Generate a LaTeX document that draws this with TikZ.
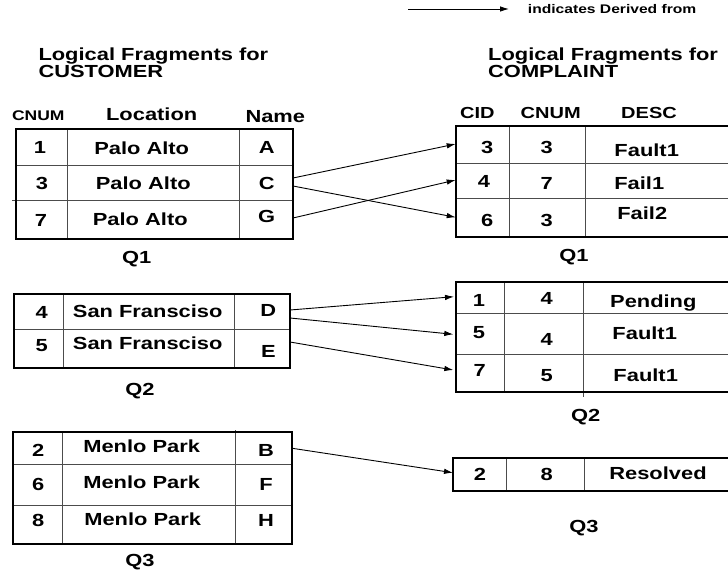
\documentclass[tikz,border=0pt]{standalone}
\usepackage{fontspec}
\usetikzlibrary{arrows.meta}
\newfontfamily\hv{Liberation Sans}[FakeStretch=1.25]
\tikzset{
  txt/.style={font=\hv\bfseries\fontsize{17.5}{18}\selectfont, inner sep=0pt, text height=12.5pt, text depth=0pt},
  hdl/.style={font=\hv\bfseries\fontsize{14}{15}\selectfont, inner sep=0pt, text height=10pt, text depth=0pt},
  hdr/.style={font=\hv\bfseries\fontsize{16}{17}\selectfont, inner sep=0pt, text height=11.5pt, text depth=0pt},
  leg/.style={font=\hv\bfseries\fontsize{12.5}{13}\selectfont, inner sep=0pt, text height=9pt, text depth=0pt},
  border/.style={draw=black, line width=2pt},
  grid/.style={draw=black!70, line width=1pt},
  arr/.style={draw=black, line width=0.9pt, -{Latex[length=9pt,width=5.5pt]}}
}
\begin{document}
\begin{tikzpicture}[x=1pt,y=-1pt]
\useasboundingbox (0,0) rectangle (728,575);
\clip (0,0) rectangle (728,575);
\fill[white] (0,0) rectangle (728,575);

% legend
\coordinate (legA) at (408,9);
\coordinate (legB) at (509,9);
\draw[arr] (legA) -- (legB);
\node[leg, anchor=west] (legT) at (527.7,9.5) {indicates Derived from};

% titles
\node[txt, anchor=west] (tl1) at (38.3,54) {Logical Fragments for};
\node[txt, anchor=west] (tl2) at (38.3,71.7) {CUSTOMER};
\node[txt, anchor=west] (tr1) at (488,54) {Logical Fragments for};
\node[txt, anchor=west] (tr2) at (488,71.7) {COMPLAINT};

% headers
\node[hdl] (hl1) at (38.3,115.7) {CNUM};
\node[txt] (hl2) at (151.7,114.3) {Location};
\node[txt] (hl3) at (275.3,116.7) {Name};
\node[hdr] (hr1) at (477.3,112.7) {CID};
\node[hdr] (hr2) at (550.7,112.7) {CNUM};
\node[hdr] (hr3) at (649,112.7) {DESC};

% ---------- Left Q1 ----------
\draw[grid] (67.7,129.3) -- (67.7,239.3);
\draw[grid] (239.3,129.3) -- (239.3,239.3);
\draw[grid] (15.7,165.7) -- (293,165.7);
\draw[grid] (12,200.7) -- (293,200.7);
\draw[border] (15.7,129.3) rectangle (293,239.3);
\node[txt] (l1a) at (40,147.7) {1};
\node[txt] (l1b) at (141.7,148) {Palo Alto};
\node[txt] (l1c) at (266.7,147.7) {A};
\node[txt] (l1d) at (42,183.3) {3};
\node[txt] (l1e) at (143.3,183) {Palo Alto};
\node[txt] (l1f) at (266.7,183) {C};
\node[txt] (l1g) at (41,220) {7};
\node[txt] (l1h) at (140.3,219.3) {Palo Alto};
\node[txt] (l1i) at (266.7,216.7) {G};
\node[txt] (lq1) at (136.7,257.7) {Q1};

% ---------- Right Q1 ----------
\draw[grid] (509,126) -- (509,237.3);
\draw[grid] (585,126) -- (585,237.3);
\draw[grid] (456.3,163.3) -- (740,163.3);
\draw[grid] (456.3,198.3) -- (740,198.3);
\draw[border] (456.3,126) rectangle (740,237.3);
\node[txt] (r1a) at (487.3,147) {3};
\node[txt] (r1b) at (546.7,147) {3};
\node[txt] (r1c) at (646.7,150) {Fault1};
\node[txt] (r1d) at (484,181.7) {4};
\node[txt] (r1e) at (546.7,183.3) {7};
\node[txt] (r1f) at (639.3,183.3) {Fail1};
\node[txt] (r1g) at (487.3,220) {6};
\node[txt] (r1h) at (546.7,220) {3};
\node[txt] (r1i) at (642.3,213.3) {Fail2};
\node[txt] (rq1) at (574,255) {Q1};

% ---------- Left Q2 ----------
\draw[grid] (63.3,294) -- (63.3,368.3);
\draw[grid] (234,294) -- (234,368.3);
\draw[grid] (14,329.3) -- (290,329.3);
\draw[border] (14,294) rectangle (290,368.3);
\node[txt] (l2a) at (41.7,312) {4};
\node[txt] (l2b) at (147.7,311.5) {San Fransciso};
\node[txt] (l2c) at (268.3,310.7) {D};
\node[txt] (l2d) at (41.7,345) {5};
\node[txt] (l2e) at (147.7,343.3) {San Fransciso};
\node[txt] (l2f) at (268.3,351) {E};
\node[txt] (lq2) at (140,389.3) {Q2};

% ---------- Right Q2 ----------
\draw[grid] (504.7,281.7) -- (504.7,392.3);
\draw[grid] (583.7,281.7) -- (583.7,397);
\draw[grid] (455.7,313.3) -- (740,313.3);
\draw[grid] (455.7,354.7) -- (740,354.7);
\draw[border] (455.7,281.7) rectangle (740,392.3);
\node[txt] (r2a) at (479,300) {1};
\node[txt] (r2b) at (546.7,298.3) {4};
\node[txt] (r2c) at (653.3,301) {Pending};
\node[txt] (r2d) at (479,332.7) {5};
\node[txt] (r2e) at (546.7,339.3) {4};
\node[txt] (r2f) at (644.7,333.3) {Fault1};
\node[txt] (r2g) at (479.7,370.7) {7};
\node[txt] (r2h) at (546.7,375) {5};
\node[txt] (r2i) at (645.7,375) {Fault1};
\node[txt] (rq2) at (585.7,415) {Q2};

% ---------- Left Q3 ----------
\draw[grid] (62,431.7) -- (62,544);
\draw[grid] (235.3,430) -- (235.3,544);
\draw[grid] (12.7,464) -- (292.3,464);
\draw[grid] (12.7,505.3) -- (292.3,505.3);
\draw[border] (12.7,431.7) rectangle (292.3,544);
\node[txt] (l3a) at (38.3,450) {2};
\node[txt] (l3b) at (141.7,446) {Menlo Park};
\node[txt] (l3c) at (266,450) {B};
\node[txt] (l3d) at (38.3,484) {6};
\node[txt] (l3e) at (141.7,482.7) {Menlo Park};
\node[txt] (l3f) at (266,484) {F};
\node[txt] (l3g) at (38.3,520) {8};
\node[txt] (l3h) at (142.7,519) {Menlo Park};
\node[txt] (l3i) at (266,520.7) {H};
\node[txt] (lq3) at (140,560) {Q3};

% ---------- Right Q3 ----------
\draw[grid] (506.3,458.3) -- (506.3,490.7);
\draw[grid] (584.7,458.3) -- (584.7,490.7);
\draw[border] (453,458.3) rectangle (740,490.7);
\node[txt] (r3a) at (480,474) {2};
\node[txt] (r3b) at (546.7,474) {8};
\node[txt] (r3c) at (658,473.3) {Resolved};
\node[txt] (rq3) at (584,526) {Q3};

% ---------- connector end points ----------
\coordinate (s1) at (293,178);
\coordinate (s2) at (293,186);
\coordinate (s3) at (293,218);
\coordinate (e1) at (455.7,144);
\coordinate (e2) at (455.7,217.3);
\coordinate (e3) at (455.7,180);
\coordinate (s4) at (290,310);
\coordinate (s5) at (290,318);
\coordinate (s6) at (290,342);
\coordinate (e4) at (454,296.7);
\coordinate (e5) at (453.3,334.3);
\coordinate (e6) at (453.3,370);
\coordinate (s7) at (292.3,448.3);
\coordinate (e7) at (453,472.7);

\draw[arr] (s1) -- (e1);
\draw[arr] (s2) -- (e2);
\draw[arr] (s3) -- (e3);
\draw[arr] (s4) -- (e4);
\draw[arr] (s5) -- (e5);
\draw[arr] (s6) -- (e6);
\draw[arr] (s7) -- (e7);
\end{tikzpicture}
\end{document}
